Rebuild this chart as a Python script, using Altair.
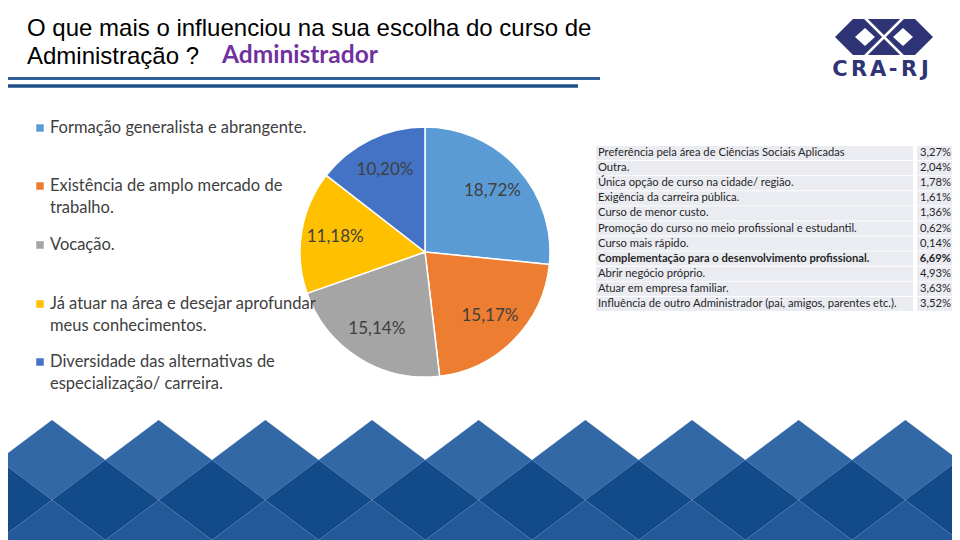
import altair as alt
import pandas as pd

# ------------------------------------------------------------------ data
title_line1 = "O que mais o influenciou na sua escolha do curso de"
title_line2 = "Administração ?"
title_tag = "Administrador"

pie_categories = [
    "Formação generalista e abrangente.",
    "Existência de amplo mercado de trabalho.",
    "Vocação.",
    "Já atuar na área e desejar aprofundar meus conhecimentos.",
    "Diversidade das alternativas de especialização/ carreira.",
]
pie_values = [18.72, 15.17, 15.14, 11.18, 10.20]
legend_lines = [
    ["Formação generalista e abrangente."],
    ["Existência de amplo mercado de", "trabalho."],
    ["Vocação."],
    ["Já atuar na área e desejar aprofundar", "meus conhecimentos."],
    ["Diversidade das alternativas de", "especialização/ carreira."],
]

table_labels = [
    "Preferência pela área de Ciências Sociais Aplicadas",
    "Outra.",
    "Única opção de curso na cidade/ região.",
    "Exigência da carreira pública.",
    "Curso de menor custo.",
    "Promoção do curso no meio profissional e estudantil.",
    "Curso mais rápido.",
    "Complementação para o desenvolvimento profissional.",
    "Abrir negócio próprio.",
    "Atuar em empresa familiar.",
    "Influência de outro Administrador (pai, amigos, parentes etc.).",
]
table_values = [3.27, 2.04, 1.78, 1.61, 1.36, 0.62, 0.14, 6.69, 4.93, 3.63, 3.52]
table_bold = [False, False, False, False, False, False, False, True, False, False, False]

logo_text = "CRA-RJ"

# ------------------------------------------------------------------ styles
pie_colors = ["#5b9bd5", "#ed7d31", "#a5a5a5", "#ffc000", "#4472c4"]
navy = "#2e3476"
W, H = 944, 532
xs = alt.Scale(domain=[8, 952], nice=False, zero=False)
ys = alt.Scale(domain=[8, 540], nice=False, zero=False, reverse=True)


def fmt(v):
    return f"{v:.2f}".replace(".", ",") + "%"


def X(f="x"):
    return alt.X(f"{f}:Q", scale=xs, axis=None)


def Y(f="y"):
    return alt.Y(f"{f}:Q", scale=ys, axis=None)


def txt(df, **props):
    return alt.Chart(df).mark_text(**props).encode(x=X(), y=Y(), text="t:N")


# ------------------------------------------------------------------ background pattern
hw, hh = 160 / 3, 40
rows = []
for k in range(-1, 10):
    c = 52 + k * 2 * hw
    for cx, cy, band in [(c, 460, "L"), (c + hw, 500, "D"), (c, 540, "M")]:
        key = f"{band}{k}"
        rows += [
            dict(id=key, band=band, x=cx - hw, y=cy, y2=cy),
            dict(id=key, band=band, x=cx, y=cy - hh, y2=min(cy + hh, 540)),
            dict(id=key, band=band, x=cx + hw, y=cy, y2=cy),
        ]
dia = pd.DataFrame(rows)
band_colors = {"L": "#3368a7", "D": "#134a8a", "M": "#235899"}
dia_layers = [
    alt.Chart(dia[dia.band == b]).mark_area(orient="vertical", color=col, clip=True).encode(
        x=X(), y=Y(), y2="y2:Q", detail="id:N")
    for b, col in band_colors.items()
]

# ------------------------------------------------------------------ title & rules
title_df = pd.DataFrame({"x": [27, 27], "y": [36, 64], "t": [title_line1, title_line2]})
title = txt(title_df, align="left", baseline="alphabetic", font="Liberation Sans",
            fontSize=24, color="#000000")
tag = txt(pd.DataFrame({"x": [222], "y": [63], "t": [title_tag]}), align="left",
          baseline="alphabetic", font="Lato", fontWeight="bold", fontSize=24.5, color="#7030a0")
rules_df = pd.DataFrame({"x": [0, 0], "x2": [600, 578], "y": [78.5, 86], "c": ["a", "b"]})
rule1 = alt.Chart(rules_df[rules_df.c == "a"]).mark_rule(color="#2f5f98", strokeWidth=3, clip=True).encode(
    x=X(), x2="x2:Q", y=Y())
rule2 = alt.Chart(rules_df[rules_df.c == "b"]).mark_rule(color="#1f4e88", strokeWidth=3.5, clip=True).encode(
    x=X(), x2="x2:Q", y=Y())

# ------------------------------------------------------------------ logo
hexa = pd.DataFrame([
    dict(id="h", x=835, y=37, y2=37), dict(id="h", x=853, y=19, y2=55),
    dict(id="h", x=915, y=19, y2=55), dict(id="h", x=933, y=37, y2=37),
])
logo_hex = alt.Chart(hexa).mark_area(orient="vertical", color=navy).encode(
    x=X(), y=Y(), y2="y2:Q", detail="id:N")
wd = []
for i, (cx, cy) in enumerate([(865, 37), (903, 37)]):
    wd += [dict(id=i, x=cx - 10, y=cy, y2=cy), dict(id=i, x=cx, y=cy - 9, y2=cy + 9),
           dict(id=i, x=cx + 10, y=cy, y2=cy)]
logo_wd = alt.Chart(pd.DataFrame(wd)).mark_area(orient="vertical", color="white").encode(
    x=X(), y=Y(), y2="y2:Q", detail="id:N")
xl = pd.DataFrame({"x": [865, 903], "x2": [903, 865], "y": [18, 18], "y2": [56, 56]})
logo_x = alt.Chart(xl).mark_rule(color="white", strokeWidth=2.5).encode(
    x=X(), x2="x2:Q", y=Y(), y2="y2:Q")
letter_x = [840, 859, 878, 893, 909, 925]
logo_t = txt(pd.DataFrame({"x": letter_x, "y": [75.5] * 6, "t": list(logo_text)}), align="center",
             baseline="alphabetic", font="DejaVu Sans", fontWeight="bold", fontSize=21, color=navy)

# ------------------------------------------------------------------ pie
pie_df = pd.DataFrame({"cat": pie_categories, "value": pie_values,
                       "order": list(range(len(pie_values))),
                       "label": [fmt(v) for v in pie_values]})
cx, cy = 425, 252
cscale = alt.Scale(domain=pie_categories, range=pie_colors)
arc = alt.Chart(pie_df).mark_arc(radius=125, stroke="white", strokeWidth=1.5).encode(
    theta=alt.Theta("value:Q", stack=True),
    order=alt.Order("order:Q"),
    color=alt.Color("cat:N", scale=cscale, legend=None),
    x=alt.value(cx - 8), y=alt.value(cy - 8))
arc_lbl = alt.Chart(pie_df).mark_text(radius=91, font="Lato", fontSize=17, color="#404040").encode(
    theta=alt.Theta("value:Q", stack=True),
    order=alt.Order("order:Q"),
    text="label:N",
    x=alt.value(cx - 8), y=alt.value(cy - 8))

# ------------------------------------------------------------------ legend
leg_y = [128, 186, 245, 304, 362]
sq_df = pd.DataFrame({"cat": pie_categories, "x": [40] * 5, "y": leg_y})
leg_sq = alt.Chart(sq_df).mark_square(size=56, opacity=1).encode(
    x=X(), y=Y(), color=alt.Color("cat:N", scale=cscale, legend=None))
lr = []
for i, lines in enumerate(legend_lines):
    for j, line in enumerate(lines):
        lr.append(dict(x=50, y=leg_y[i] + 22 * j, t=line))
leg_txt = txt(pd.DataFrame(lr), align="left", baseline="middle", font="Lato", fontSize=16.5,
              color="#404040")

# ------------------------------------------------------------------ table
n = len(table_labels)
row_c = [153 + 15.1 * i for i in range(n)]
bg = pd.DataFrame(
    [dict(x=596, x2=913, y=c - 7.1, y2=c + 7.1) for c in row_c]
    + [dict(x=917, x2=955, y=c - 7.1, y2=c + 7.1) for c in row_c])
tab_bg = alt.Chart(bg).mark_rect(color="#eaecf2", clip=True).encode(x=X(), x2="x2:Q", y=Y(), y2="y2:Q")
tl = pd.DataFrame({"x": 598, "y": row_c, "t": table_labels, "b": table_bold})
tv = pd.DataFrame({"x": 951, "y": row_c, "t": [fmt(v) for v in table_values], "b": table_bold})
tab_layers = []
for df, al in [(tl, "left"), (tv, "right")]:
    tab_layers.append(txt(df[~df.b], align=al, baseline="middle", font="Lato", fontSize=11.2,
                          color="#262626"))
    tab_layers.append(txt(df[df.b], align=al, baseline="middle", font="Lato", fontSize=11.2,
                          fontWeight="bold", color="#262626"))

chart = alt.layer(
    *dia_layers, rule1, rule2, title, tag,
    logo_hex, logo_wd, logo_x, logo_t,
    arc, arc_lbl, leg_sq, leg_txt, tab_bg, *tab_layers,
).properties(
    width=W, height=H, padding=0, background="white",
    autosize=alt.AutoSizeParams(type="none"),
).configure_view(stroke=None)

chart.save("out.html", embed_options={"renderer": "svg", "actions": False})
